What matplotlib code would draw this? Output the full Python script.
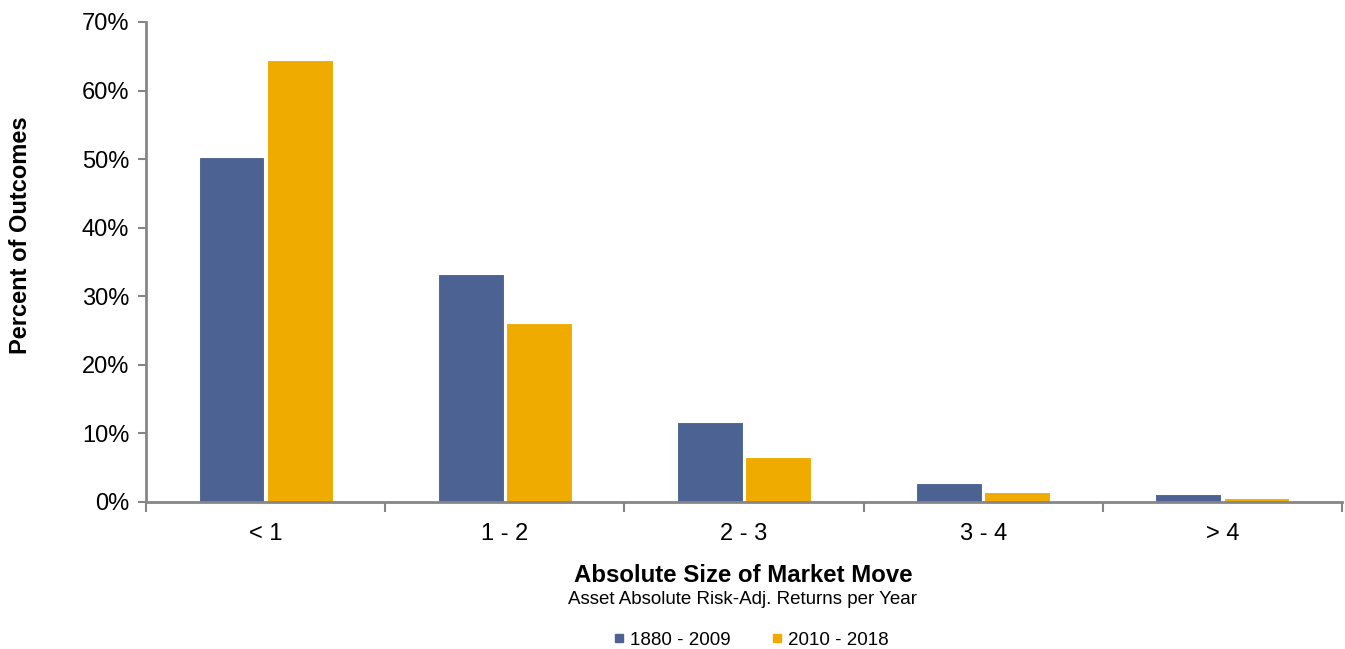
import matplotlib.pyplot as plt
import numpy as np
from matplotlib.ticker import PercentFormatter
from matplotlib.lines import Line2D

plt.rcParams['font.family'] = ['Liberation Sans', 'DejaVu Sans']

# categories and values (percent of outcomes)
categories = ['< 1', '1 - 2', '2 - 3', '3 - 4', '> 4']
series_names = ['1880 - 2009', '2010 - 2018']
vals_early = [50.3, 33.2, 11.7, 2.8, 1.1]
vals_recent = [64.4, 26.1, 6.6, 1.4, 0.6]
colors = ['#4B6293', '#F0AB00']

fig = plt.figure(figsize=(13.45, 6.49), dpi=100)
ax = fig.add_axes([146 / 1345, 1 - 502 / 649, 1196 / 1345, 480 / 649])

x = np.arange(len(categories))
w = 0.275
ax.bar(x - w / 2 - 0.005, vals_early, w, color=colors[0], edgecolor='white', linewidth=0.8)
ax.bar(x + w / 2 + 0.005, vals_recent, w, color=colors[1], edgecolor='white', linewidth=0.8)

ax.set_xlim(-0.5, len(categories) - 0.5)
ax.set_ylim(0, 70)
ax.set_yticks(range(0, 71, 10))
ax.yaxis.set_major_formatter(PercentFormatter(decimals=0))

ax.set_xticks(x)
ax.set_xticklabels(categories)
ax.set_xticks(np.arange(-0.5, len(categories)), minor=True)
ax.tick_params(axis='x', which='major', length=0, pad=15, labelsize=17)
ax.tick_params(axis='x', which='minor', length=7, width=1.5, color='#868686', direction='out')
ax.tick_params(axis='y', length=6, width=1.5, color='#868686', labelsize=17, pad=6)

for s in ['top', 'right']:
    ax.spines[s].set_visible(False)
for s in ['left', 'bottom']:
    ax.spines[s].set_color('#868686')
    ax.spines[s].set_linewidth(2)

fig.text(21 / 1345, 1 - 235 / 649, 'Percent of Outcomes', rotation=90, fontsize=17,
         fontweight='bold', ha='center', va='center')
fig.text(743 / 1345, 1 - 575 / 649, 'Absolute Size of Market Move', fontsize=17.3,
         fontweight='bold', ha='center', va='center')
fig.text(743 / 1345, 1 - 599 / 649, 'Asset Absolute Risk-Adj. Returns per Year', fontsize=13.5,
         ha='center', va='center')

handles = [Line2D([], [], marker='s', color=c, linestyle='', markersize=6) for c in colors]
fig.legend(handles, series_names, loc='center', bbox_to_anchor=(750 / 1345, 1 - 640 / 649),
           ncol=2, frameon=False, fontsize=13.5, handletextpad=0.15, columnspacing=2.1,
           handlelength=0.8)

fig.savefig('out.png', dpi=100)
